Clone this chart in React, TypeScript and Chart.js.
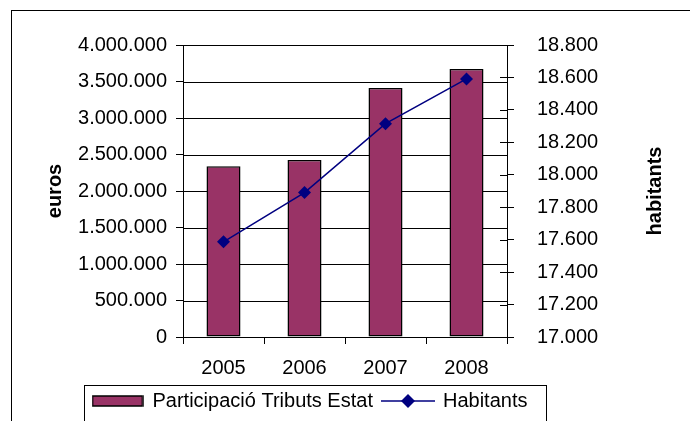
import React, { useEffect, useRef } from 'react';
import { Chart, registerables } from 'chart.js';

Chart.register(...registerables);

const categories = ['2005', '2006', '2007', '2008'];
const participacio = [2340000, 2426000, 3412000, 3672000];
const habitants = [17587, 17890, 18315, 18591];

const leftMin = 0;
const leftMax = 4000000;
const leftStep = 500000;
const rightMin = 17000;
const rightMax = 18800;
const rightStep = 200;

const barLabel = 'Participació Tributs Estat';
const lineLabel = 'Habitants';
const leftTitle = 'euros';
const rightTitle = 'habitants';

const BAR_COLOR = '#993366';
const LINE_COLOR = '#000080';
const FONT = "'Liberation Sans', Arial, sans-serif";

const fmt = (v: number) => Math.round(v).toString().replace(/\B(?=(\d{3})+(?!\d))/g, '.');

function barSwatch() {
  const c = document.createElement('canvas');
  c.width = 52; c.height = 12;
  const g = c.getContext('2d')!;
  g.fillStyle = BAR_COLOR;
  g.fillRect(1, 1, 50, 10);
  g.strokeStyle = '#000';
  g.lineWidth = 1.5;
  g.strokeRect(1, 1, 50, 10);
  return c;
}

function lineSwatch() {
  const c = document.createElement('canvas');
  c.width = 54; c.height = 16;
  const g = c.getContext('2d')!;
  g.strokeStyle = LINE_COLOR;
  g.lineWidth = 1.5;
  g.beginPath(); g.moveTo(0, 8); g.lineTo(54, 8); g.stroke();
  g.fillStyle = LINE_COLOR;
  g.beginPath();
  g.moveTo(27 - 7, 8); g.lineTo(27, 1); g.lineTo(27 + 7, 8); g.lineTo(27, 15); g.closePath();
  g.fill();
  return c;
}

const decorPlugin = {
  id: 'decor',
  afterLayout(chart: any) {
    const lg = chart.legend;
    if (lg) {
      lg.left = 82.5;
      lg.right = 690;
    }
  },
  beforeDatasetsDraw(chart: any) {
    // horizontal gridlines at the left value scale's ticks
    const ctx = chart.ctx;
    const area = chart.chartArea;
    const ys = chart.scales.y;
    ctx.save();
    ctx.strokeStyle = '#000';
    ctx.lineWidth = 1;
    ctx.beginPath();
    ys.ticks.forEach((t: any) => {
      const y = Math.round(ys.getPixelForValue(t.value)) + 0.5;
      ctx.moveTo(area.left, y);
      ctx.lineTo(area.right, y);
    });
    ctx.stroke();
    ctx.restore();
  },
  afterDraw(chart: any) {
    const ctx = chart.ctx;
    const area = chart.chartArea;
    ctx.save();
    ctx.strokeStyle = '#000';
    ctx.lineWidth = 1;
    ctx.strokeRect(11.5, 10.5, 720, 500);
    const y1 = chart.scales.y1;
    ctx.beginPath();
    y1.ticks.forEach((t: any) => {
      const y = Math.round(y1.getPixelForValue(t.value)) + 0.5;
      ctx.moveTo(area.right - 7, y);
      ctx.lineTo(area.right, y);
    });
    ctx.stroke();
    ctx.translate(655, (area.top + area.bottom) / 2);
    ctx.rotate(-Math.PI / 2);
    ctx.fillStyle = '#000';
    ctx.font = `bold 20px ${FONT}`;
    ctx.textAlign = 'center';
    ctx.textBaseline = 'middle';
    ctx.fillText(rightTitle, 0, 0);
    ctx.restore();
    const lg = chart.legend;
    if (lg && lg.legendHitBoxes && lg.legendHitBoxes.length) {
      const hb = lg.legendHitBoxes;
      const first = hb[0];
      const last = hb[hb.length - 1];
      ctx.save();
      ctx.strokeStyle = '#000';
      ctx.lineWidth = 1;
      const x0 = Math.round(first.left - 9) + 0.5;
      const x1 = Math.round(last.left + last.width + 19) + 0.5;
      const y0 = Math.round(first.top - 6) + 0.5;
      ctx.strokeRect(x0, y0, x1 - x0, 100);
      ctx.restore();
    }
  },
};

export default function App() {
  const ref = useRef<HTMLCanvasElement | null>(null);

  useEffect(() => {
    if (!ref.current) return;
    Chart.defaults.font.family = FONT;
    Chart.defaults.color = '#000';
    const bs = barSwatch();
    const ls = lineSwatch();
    const chart = new Chart(ref.current, {
      type: 'bar',
      data: {
        labels: categories,
        datasets: [
          {
            type: 'bar',
            label: barLabel,
            data: participacio,
            backgroundColor: BAR_COLOR,
            borderColor: '#000',
            borderWidth: 1.5,
            borderSkipped: false,
            barPercentage: 0.42,
            categoryPercentage: 1,
            yAxisID: 'y',
            order: 1,
          },
          {
            type: 'line',
            label: lineLabel,
            data: habitants,
            borderColor: LINE_COLOR,
            backgroundColor: LINE_COLOR,
            borderWidth: 1.5,
            pointStyle: 'rectRot',
            pointRadius: 6.5,
            pointBorderWidth: 0,
            yAxisID: 'y1',
            order: 0,
          } as any,
        ],
      },
      options: {
        responsive: false,
        animation: false,
        devicePixelRatio: 1,
        layout: { padding: { top: 45, left: 0, right: 0, bottom: 0 } },
        plugins: {
          tooltip: { enabled: false },
          legend: {
            display: true,
            position: 'bottom',
            align: 'start',
            labels: {
              usePointStyle: true,
              pointStyleWidth: 50,
              padding: 10,
              color: '#000',
              font: { size: 20, family: FONT },
              generateLabels: () => [
                { text: barLabel, pointStyle: bs, fillStyle: BAR_COLOR, strokeStyle: '#000', lineWidth: 0, hidden: false, datasetIndex: 0 } as any,
                { text: lineLabel, pointStyle: ls, fillStyle: LINE_COLOR, strokeStyle: LINE_COLOR, lineWidth: 0, hidden: false, datasetIndex: 1 } as any,
              ],
            },
          },
        },
        scales: {
          x: {
            type: 'category',
            offset: true,
            grid: { drawOnChartArea: false, drawTicks: true, tickLength: 7, color: '#000', offset: true },
            border: { color: '#000', width: 1 },
            ticks: { font: { size: 20, family: FONT }, color: '#000', padding: 12, maxRotation: 0 },
            afterFit: (s: any) => { s.width = s.width; s.height = 44; },
          },
          y: {
            position: 'left',
            min: leftMin,
            max: leftMax,
            grid: { display: true, drawOnChartArea: false, color: '#000', lineWidth: 1, tickLength: 7 },
            border: { color: '#000', width: 1 },
            ticks: { stepSize: leftStep, font: { size: 20, family: FONT }, color: '#000', padding: 9, callback: (v: any) => fmt(Number(v)) },
            title: { display: true, text: leftTitle, font: { size: 20, weight: 'bold', family: FONT }, color: '#000', padding: { top: 43, bottom: 0 } },
            afterFit: (s: any) => { s.width = 183; },
          },
          y1: {
            position: 'right',
            min: rightMin,
            max: rightMax,
            grid: { drawOnChartArea: false, color: '#000', tickLength: 7 },
            border: { color: '#000', width: 1 },
            ticks: { stepSize: rightStep, font: { size: 20, family: FONT }, color: '#000', padding: 23, callback: (v: any) => fmt(Number(v)) },
            afterFit: (s: any) => { s.width = 183; },
          },
        },
      } as any,
      plugins: [decorPlugin],
    });
    return () => chart.destroy();
  }, []);

  return (
    <div style={{ position: 'absolute', left: 0, top: 0, width: 690, height: 421, background: '#fff', overflow: 'hidden' }}>
      <canvas ref={ref} width={690} height={421} style={{ display: 'block' }} />
    </div>
  );
}
